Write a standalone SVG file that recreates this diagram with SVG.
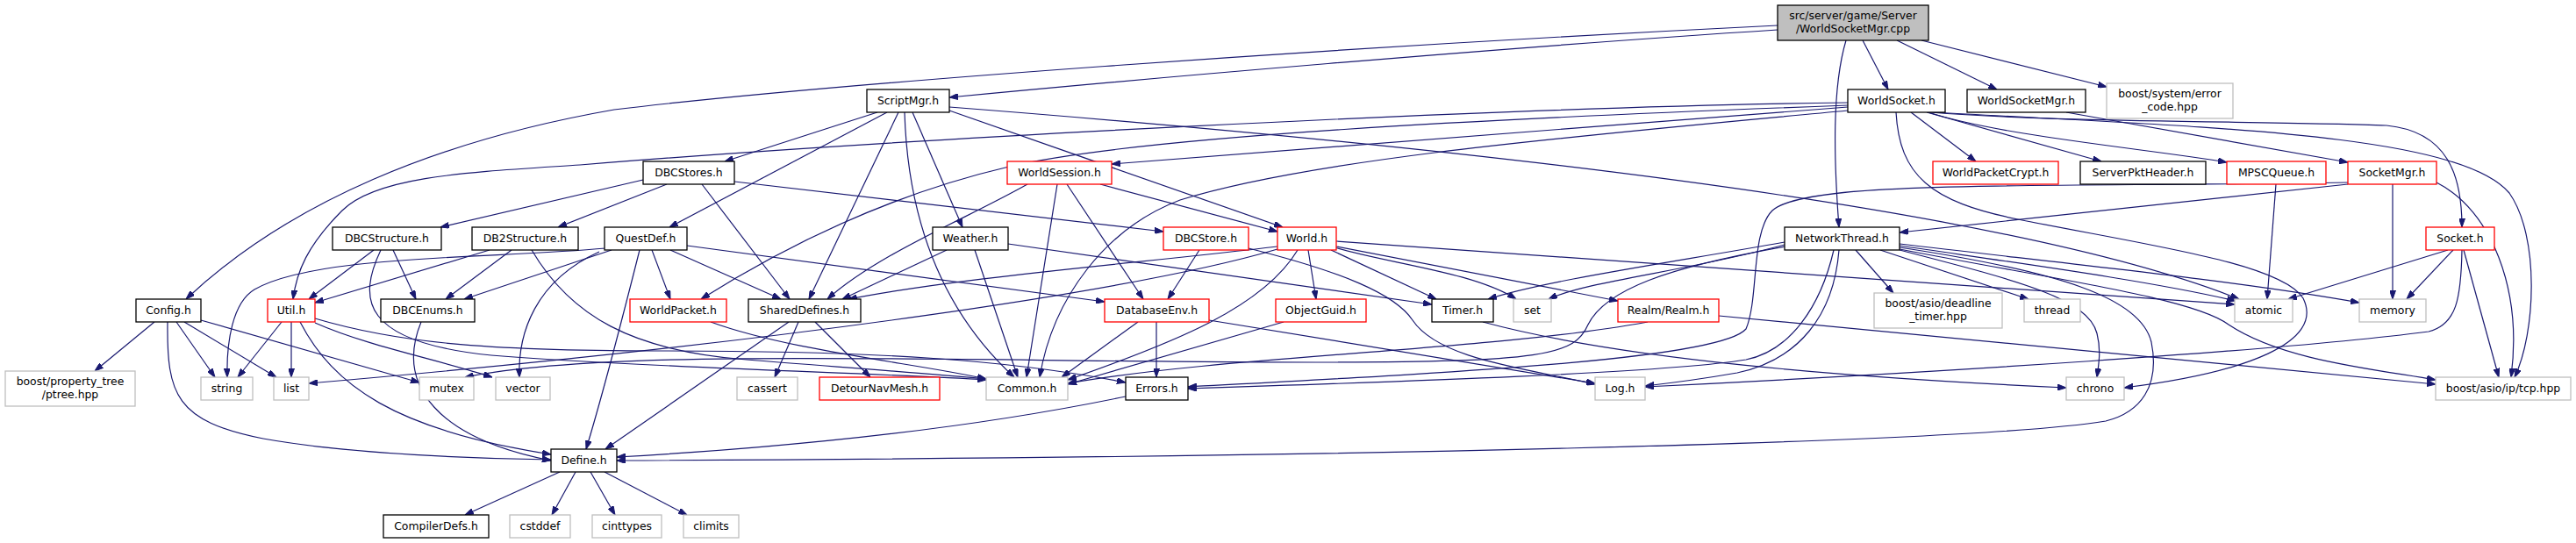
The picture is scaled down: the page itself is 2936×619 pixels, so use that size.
<svg xmlns="http://www.w3.org/2000/svg" width="2936" height="619" viewBox="0 0 2936 619">
<style>
rect{fill:#ffffff;stroke-width:1.3}
.k{stroke:#000000}
.r{stroke:#ff0000}
.g{stroke:#bfbfbf}
.root{fill:#bfbfbf;stroke:#000000}
text{font-family:"DejaVu Sans","Liberation Sans",sans-serif;font-size:12.4px;fill:#000000;text-anchor:middle}
.e path{fill:none;stroke:#191970;stroke-width:1.2;marker-end:url(#a)}
</style>
<defs>
<marker id="a" markerUnits="userSpaceOnUse" markerWidth="10" markerHeight="7" refX="10" refY="3.5" orient="auto">
<path d="M0,0 L10,3.5 L0,7 z" fill="#191970" stroke="#191970" stroke-width="1"/>
</marker>
</defs>
<rect x="0" y="0" width="2936" height="619" style="fill:#ffffff;stroke:none"/>
<g class="e" id="edges">
<path d="M2026,29 C1500,55 950,95 700,125 C500,160 330,230 212,341"/>
<path d="M2026,34 C1700,55 1300,90 1082,111"/>
<path d="M2104,46 C2088,100 2090,180 2096,259"/>
<path d="M2123,46 L2152,102"/>
<path d="M2162,46 L2276,102"/>
<path d="M2190,46 L2401,99"/>
<path d="M1000,128 L826,184"/>
<path d="M1011,128 L763,259"/>
<path d="M1024,128 L922,341"/>
<path d="M1031,128 C1035,260 1080,360 1156,430"/>
<path d="M1040,128 L1097,259"/>
<path d="M1082,126 L1462,259"/>
<path d="M1082,122 C1700,170 2300,240 2552,341"/>
<path d="M733,205 L502,259"/>
<path d="M760,210 L636,259"/>
<path d="M800,210 L900,341"/>
<path d="M837,207 L1326,264"/>
<path d="M426,285 L352,341"/>
<path d="M448,285 L474,341"/>
<path d="M434,285 C408,340 410,390 560,405 C750,420 1000,425 1124,433"/>
<path d="M558,285 L359,345"/>
<path d="M583,285 L508,341"/>
<path d="M606,285 C650,360 720,400 851,410 C950,418 1050,425 1124,432"/>
<path d="M690,283 C560,295 360,290 290,330 C265,345 258,390 259,430"/>
<path d="M697,285 L529,341"/>
<path d="M683,287 C610,320 590,380 592,430"/>
<path d="M729,285 C710,360 690,440 668,512"/>
<path d="M743,285 L764,341"/>
<path d="M764,285 L890,341"/>
<path d="M783,280 L1259,344"/>
<path d="M1079,285 L960,341"/>
<path d="M1111,285 L1160,430"/>
<path d="M1149,278 L1632,347"/>
<path d="M1171,210 C1100,250 1000,290 943,341"/>
<path d="M1205,210 L1170,430"/>
<path d="M1216,210 L1303,341"/>
<path d="M1254,210 L1456,264"/>
<path d="M1367,285 L1331,341"/>
<path d="M1423,283 C1530,310 1590,335 1610,365 C1640,410 1740,420 1818,438"/>
<path d="M1456,281 C1300,300 1100,315 967,341"/>
<path d="M1456,284 C1300,330 900,390 352,437"/>
<path d="M1479,285 C1440,350 1340,390 1217,433"/>
<path d="M1491,285 L1500,341"/>
<path d="M1517,285 L1637,341"/>
<path d="M1521,282 C1580,300 1680,310 1728,341"/>
<path d="M1523,281 L1844,343"/>
<path d="M1523,275 L2547,347"/>
<path d="M2106,117 C1700,122 1000,160 661,188 C540,196 430,200 390,240 C350,280 338,310 334,341"/>
<path d="M2106,120 C1700,135 1300,155 1150,190 C1000,225 880,290 799,341"/>
<path d="M2106,122 L1267,187"/>
<path d="M2106,126 C1800,155 1500,180 1345,228 C1260,260 1200,340 1185,430"/>
<path d="M2178,128 L2252,184"/>
<path d="M2196,128 L2395,184"/>
<path d="M2198,128 C2280,155 2450,170 2538,185"/>
<path d="M2200,128 C2350,140 2600,138 2720,143 C2790,150 2806,200 2806,259"/>
<path d="M2205,128 C2500,145 2800,150 2860,220 C2895,270 2890,380 2866,430"/>
<path d="M2161,128 C2165,200 2200,230 2300,250 C2450,280 2600,300 2625,340 C2650,390 2560,425 2421,442"/>
<path d="M2355,128 L2676,185"/>
<path d="M2594,210 L2584,341"/>
<path d="M2676,210 L2165,265"/>
<path d="M2727,210 L2727,341"/>
<path d="M2777,208 C2840,240 2875,330 2862,430"/>
<path d="M2676,208 C2300,214 2060,205 2020,240 C1995,265 2005,340 1990,375 C1960,410 1650,425 1354,441"/>
<path d="M2790,285 L2608,341"/>
<path d="M2796,285 L2743,341"/>
<path d="M2808,285 L2848,430"/>
<path d="M2806,285 C2805,340 2800,370 2768,378 C2600,400 2200,425 1875,441"/>
<path d="M2034,276 C1900,300 1760,320 1696,341"/>
<path d="M2034,279 C1920,310 1810,320 1765,341"/>
<path d="M2035,281 C1900,305 1830,330 1810,370 C1795,405 1760,413 1500,413 C1100,413 700,395 530,430"/>
<path d="M2090,285 C2075,350 2040,400 1990,410 C1900,425 1600,435 1354,443"/>
<path d="M2096,285 C2090,360 2050,410 1980,425 C1940,432 1910,436 1875,440"/>
<path d="M2165,282 C2350,310 2440,340 2452,390 C2462,440 2440,470 2400,480 C2250,505 1500,522 703,525"/>
<path d="M2115,285 L2158,334"/>
<path d="M2143,285 L2312,341"/>
<path d="M2165,280 C2300,300 2450,320 2548,343"/>
<path d="M2165,278 C2350,300 2550,320 2689,345"/>
<path d="M2165,285 C2300,320 2380,340 2390,380 C2395,400 2392,415 2390,430"/>
<path d="M2165,284 C2350,320 2500,340 2540,370 C2600,410 2700,420 2776,433"/>
<path d="M1959,360 L2776,438"/>
<path d="M1878,367 C1700,400 1400,405 1217,437"/>
<path d="M1690,367 C1850,410 2100,430 2355,442"/>
<path d="M1463,367 L1217,438"/>
<path d="M1297,367 L1210,430"/>
<path d="M1318,367 L1318,430"/>
<path d="M1378,365 L1818,437"/>
<path d="M810,367 C900,400 1050,415 1124,432"/>
<path d="M910,367 L883,430"/>
<path d="M929,367 L992,430"/>
<path d="M899,367 L690,512"/>
<path d="M321,367 L271,430"/>
<path d="M332,367 L332,430"/>
<path d="M342,367 C380,440 450,490 628,518"/>
<path d="M359,368 C420,395 500,410 561,430"/>
<path d="M359,363 C450,390 550,400 750,400 C1000,400 1150,410 1283,436"/>
<path d="M480,367 C450,440 500,500 628,525"/>
<path d="M176,367 L108,423"/>
<path d="M201,367 L245,430"/>
<path d="M210,367 L315,430"/>
<path d="M229,365 L478,436"/>
<path d="M191,367 C190,450 200,480 300,500 C400,518 550,523 628,524"/>
<path d="M1283,452 C1100,490 900,510 703,521"/>
<path d="M638,538 L530,587"/>
<path d="M656,538 L629,587"/>
<path d="M673,538 L701,587"/>
<path d="M689,538 L783,587"/>
</g>
<g id="n_root"><rect class="root" x="2026" y="6" width="172" height="40"/><text x="2112" y="22">src/server/game/Server</text><text x="2112" y="37">/WorldSocketMgr.cpp</text></g>
<g id="n_ScriptMgr"><rect class="k" x="988" y="102" width="94" height="26"/><text x="1035" y="119.4">ScriptMgr.h</text></g>
<g id="n_WorldSocket"><rect class="k" x="2106" y="102" width="111" height="26"/><text x="2161.5" y="119.4">WorldSocket.h</text></g>
<g id="n_WorldSocketMgr"><rect class="k" x="2242" y="102" width="135" height="26"/><text x="2309.5" y="119.4">WorldSocketMgr.h</text></g>
<g id="n_error_code"><rect class="g" x="2401" y="95" width="144" height="40"/><text x="2473" y="111">boost/system/error</text><text x="2473" y="126">_code.hpp</text></g>
<g id="n_DBCStores"><rect class="k" x="733" y="184" width="104" height="26"/><text x="785" y="201.4">DBCStores.h</text></g>
<g id="n_WorldSession"><rect class="r" x="1148" y="184" width="119" height="26"/><text x="1207.5" y="201.4">WorldSession.h</text></g>
<g id="n_WorldPacketCrypt"><rect class="r" x="2203" y="184" width="143" height="26"/><text x="2274.5" y="201.4">WorldPacketCrypt.h</text></g>
<g id="n_ServerPktHeader"><rect class="k" x="2371" y="184" width="143" height="26"/><text x="2442.5" y="201.4">ServerPktHeader.h</text></g>
<g id="n_MPSCQueue"><rect class="r" x="2538" y="184" width="113" height="26"/><text x="2594.5" y="201.4">MPSCQueue.h</text></g>
<g id="n_SocketMgr"><rect class="r" x="2676" y="184" width="101" height="26"/><text x="2726.5" y="201.4">SocketMgr.h</text></g>
<g id="n_DBCStructure"><rect class="k" x="379" y="259" width="124" height="26"/><text x="441" y="276.4">DBCStructure.h</text></g>
<g id="n_DB2Structure"><rect class="k" x="538" y="259" width="121" height="26"/><text x="598.5" y="276.4">DB2Structure.h</text></g>
<g id="n_QuestDef"><rect class="k" x="689" y="259" width="94" height="26"/><text x="736" y="276.4">QuestDef.h</text></g>
<g id="n_Weather"><rect class="k" x="1063" y="259" width="86" height="26"/><text x="1106" y="276.4">Weather.h</text></g>
<g id="n_DBCStore"><rect class="r" x="1326" y="259" width="97" height="26"/><text x="1374.5" y="276.4">DBCStore.h</text></g>
<g id="n_World"><rect class="r" x="1456" y="259" width="67" height="26"/><text x="1489.5" y="276.4">World.h</text></g>
<g id="n_NetworkThread"><rect class="k" x="2034" y="259" width="131" height="26"/><text x="2099.5" y="276.4">NetworkThread.h</text></g>
<g id="n_Socket"><rect class="r" x="2765" y="259" width="78" height="26"/><text x="2804" y="276.4">Socket.h</text></g>
<g id="n_Config"><rect class="k" x="155" y="341" width="74" height="26"/><text x="192" y="358.4">Config.h</text></g>
<g id="n_Util"><rect class="r" x="305" y="341" width="54" height="26"/><text x="332" y="358.4">Util.h</text></g>
<g id="n_DBCEnums"><rect class="k" x="434" y="341" width="107" height="26"/><text x="487.5" y="358.4">DBCEnums.h</text></g>
<g id="n_WorldPacket"><rect class="r" x="718" y="341" width="110" height="26"/><text x="773" y="358.4">WorldPacket.h</text></g>
<g id="n_SharedDefines"><rect class="k" x="853" y="341" width="128" height="26"/><text x="917" y="358.4">SharedDefines.h</text></g>
<g id="n_DatabaseEnv"><rect class="r" x="1259" y="341" width="119" height="26"/><text x="1318.5" y="358.4">DatabaseEnv.h</text></g>
<g id="n_ObjectGuid"><rect class="r" x="1454" y="341" width="103" height="26"/><text x="1505.5" y="358.4">ObjectGuid.h</text></g>
<g id="n_Timer"><rect class="k" x="1632" y="341" width="70" height="26"/><text x="1667" y="358.4">Timer.h</text></g>
<g id="n_set"><rect class="g" x="1725" y="341" width="43" height="26"/><text x="1746.5" y="358.4">set</text></g>
<g id="n_Realm"><rect class="r" x="1844" y="341" width="115" height="26"/><text x="1901.5" y="358.4">Realm/Realm.h</text></g>
<g id="n_deadline"><rect class="g" x="2136" y="334" width="146" height="40"/><text x="2209" y="350">boost/asio/deadline</text><text x="2209" y="365">_timer.hpp</text></g>
<g id="n_thread"><rect class="g" x="2307" y="341" width="64" height="26"/><text x="2339" y="358.4">thread</text></g>
<g id="n_atomic"><rect class="g" x="2547" y="341" width="66" height="26"/><text x="2580" y="358.4">atomic</text></g>
<g id="n_memory"><rect class="g" x="2689" y="341" width="76" height="26"/><text x="2727" y="358.4">memory</text></g>
<g id="n_ptree"><rect class="g" x="6" y="423" width="148" height="40"/><text x="80" y="439.3">boost/property_tree</text><text x="80" y="454.3">/ptree.hpp</text></g>
<g id="n_string"><rect class="g" x="229" y="430" width="59" height="26"/><text x="258.5" y="447.4">string</text></g>
<g id="n_list"><rect class="g" x="312" y="430" width="40" height="26"/><text x="332" y="447.4">list</text></g>
<g id="n_mutex"><rect class="g" x="478" y="430" width="62" height="26"/><text x="509" y="447.4">mutex</text></g>
<g id="n_vector"><rect class="g" x="565" y="430" width="62" height="26"/><text x="596" y="447.4">vector</text></g>
<g id="n_cassert"><rect class="g" x="840" y="430" width="69" height="26"/><text x="874.5" y="447.4">cassert</text></g>
<g id="n_DetourNavMesh"><rect class="r" x="934" y="430" width="137" height="26"/><text x="1002.5" y="447.4">DetourNavMesh.h</text></g>
<g id="n_Common"><rect class="g" x="1124" y="430" width="93" height="26"/><text x="1170.5" y="447.4">Common.h</text></g>
<g id="n_Errors"><rect class="k" x="1283" y="430" width="71" height="26"/><text x="1318.5" y="447.4">Errors.h</text></g>
<g id="n_Log"><rect class="g" x="1818" y="430" width="57" height="26"/><text x="1846.5" y="447.4">Log.h</text></g>
<g id="n_chrono"><rect class="g" x="2355" y="430" width="66" height="26"/><text x="2388" y="447.4">chrono</text></g>
<g id="n_tcp"><rect class="g" x="2776" y="430" width="154" height="26"/><text x="2853" y="447.4">boost/asio/ip/tcp.hpp</text></g>
<g id="n_Define"><rect class="k" x="628" y="512" width="75" height="26"/><text x="665.5" y="529.4">Define.h</text></g>
<g id="n_CompilerDefs"><rect class="k" x="437" y="587" width="120" height="26"/><text x="497" y="604.4">CompilerDefs.h</text></g>
<g id="n_cstddef"><rect class="g" x="581" y="587" width="69" height="26"/><text x="615.5" y="604.4">cstddef</text></g>
<g id="n_cinttypes"><rect class="g" x="675" y="587" width="79" height="26"/><text x="714.5" y="604.4">cinttypes</text></g>
<g id="n_climits"><rect class="g" x="779" y="587" width="63" height="26"/><text x="810.5" y="604.4">climits</text></g>
</svg>
